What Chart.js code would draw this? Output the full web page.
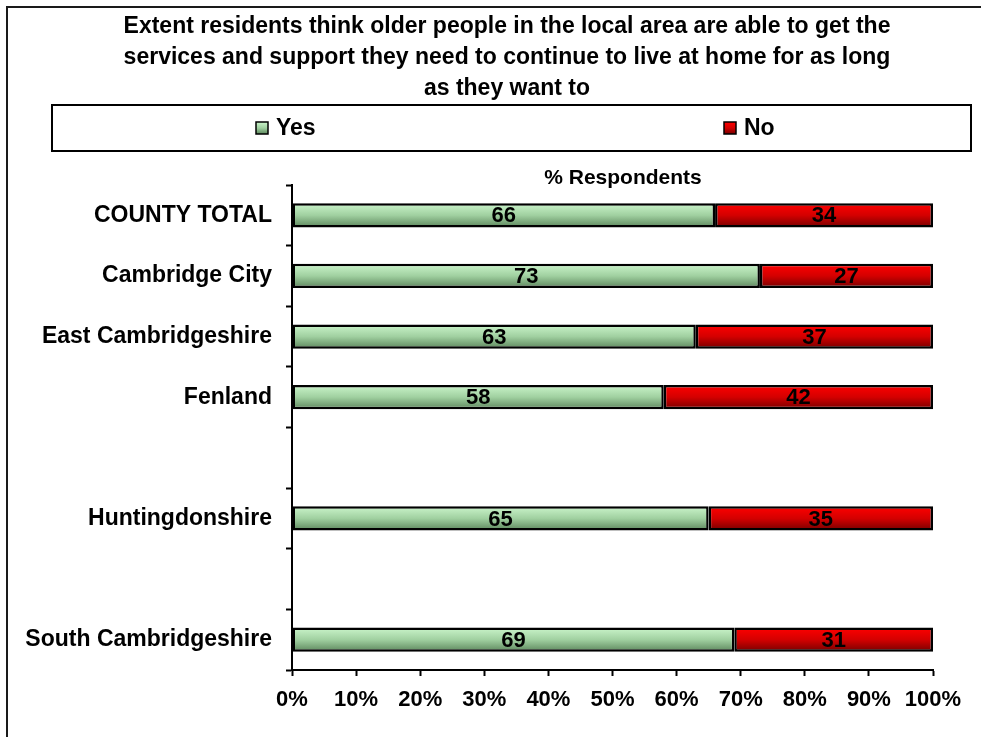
<!DOCTYPE html>
<html>
<head>
<meta charset="utf-8">
<script src="https://cdn.jsdelivr.net/npm/chart.js@4/dist/chart.umd.min.js"></script>
<style>
  html, body { margin: 0; padding: 0; background: #ffffff; }
  #wrap { position: relative; width: 981px; height: 737px; }
</style>
</head>
<body>
<div id="wrap"><canvas id="chart" width="981" height="737"></canvas></div>
<script>
// Survey areas (blank entries keep the spacing between groups)
const areas = ['COUNTY TOTAL', 'Cambridge City', 'East Cambridgeshire', 'Fenland', '', 'Huntingdonshire', '', 'South Cambridgeshire'];
const yesValues = [66, 73, 63, 58, null, 65, null, 69];
const noValues  = [34, 27, 37, 42, null, 35, null, 31];
const seriesNames = ['Yes', 'No'];
const titleLines = [
  'Extent residents think older people in the local area are able to get the',
  'services and support they need to continue to live at home for as long',
  'as they want to'
];
const axisTitle = '% Respondents';

const FONT = '"Liberation Sans", Arial, sans-serif';

// Vertical gradient helpers for the bar fills
const greenStops = ['#cbf5cb', '#a0d0a0', '#5c865c'];
const redStops = ['#ff0000', '#d40000', '#760000'];

function barGradient(ctx, top, bottom, stops) {
  const g = ctx.createLinearGradient(0, top, 0, bottom);
  g.addColorStop(0, stops[0]);
  g.addColorStop(0.5, stops[1]);
  g.addColorStop(1, stops[2]);
  return g;
}

function scriptedFill(stops) {
  return function (context) {
    const chart = context.chart;
    const y = chart.scales && chart.scales.y;
    if (!y || typeof context.dataIndex !== 'number') return stops[1];
    const center = y.getPixelForValue(context.dataIndex);
    const slot = (y.bottom - y.top) / areas.length;
    const half = slot * 0.4 / 2;
    if (!isFinite(center) || !isFinite(half) || half <= 0) return stops[1];
    return barGradient(chart.ctx, center - half, center + half, stops);
  };
}

// Frame, title, legend box and axis caption
const decorations = {
  id: 'decorations',
  beforeDraw(chart) {
    const ctx = chart.ctx;
    ctx.save();
    ctx.fillStyle = '#ffffff';
    ctx.fillRect(0, 0, chart.width, chart.height);
    // outer frame
    ctx.strokeStyle = '#1a1a1a';
    ctx.lineWidth = 2;
    ctx.beginPath();
    ctx.moveTo(7, chart.height + 2);
    ctx.lineTo(7, 7);
    ctx.lineTo(chart.width + 2, 7);
    ctx.stroke();
    // title
    ctx.fillStyle = '#000000';
    ctx.font = 'bold 23px ' + FONT;
    ctx.textAlign = 'center';
    ctx.textBaseline = 'alphabetic';
    titleLines.forEach((line, i) => ctx.fillText(line, 507, 33 + i * 31));
    // legend box
    ctx.strokeStyle = '#000000';
    ctx.lineWidth = 2;
    ctx.strokeRect(52, 105, 919, 46);
    const items = [
      { x: 256, stops: greenStops },
      { x: 724, stops: redStops }
    ];
    ctx.font = 'bold 23px ' + FONT;
    ctx.textAlign = 'left';
    ctx.textBaseline = 'middle';
    items.forEach((it, i) => {
      ctx.fillStyle = barGradient(ctx, 122, 134, it.stops);
      ctx.fillRect(it.x, 122, 12, 12);
      ctx.lineWidth = 1.5;
      ctx.strokeStyle = '#000000';
      ctx.strokeRect(it.x, 122, 12, 12);
      ctx.fillStyle = '#000000';
      ctx.fillText(chart.data.datasets[i].label, it.x + 20, 129);
    });
    // caption above the plot
    ctx.font = 'bold 21px ' + FONT;
    ctx.textAlign = 'center';
    ctx.fillText(axisTitle, 623, 178);
    ctx.restore();
  }
};

// Value labels centred inside each bar segment
const valueLabels = {
  id: 'valueLabels',
  afterDatasetsDraw(chart) {
    const ctx = chart.ctx;
    ctx.save();
    ctx.font = 'bold 22px ' + FONT;
    ctx.fillStyle = '#000000';
    ctx.textAlign = 'center';
    ctx.textBaseline = 'middle';
    chart.data.datasets.forEach((ds, di) => {
      const meta = chart.getDatasetMeta(di);
      meta.data.forEach((bar, i) => {
        const v = ds.data[i];
        if (v === null || v === undefined) return;
        const p = bar.getProps(['x', 'base', 'y'], true);
        ctx.fillText(String(v), (p.x + p.base) / 2, p.y + 1);
      });
    });
    ctx.restore();
  }
};

new Chart(document.getElementById('chart'), {
  type: 'bar',
  data: {
    labels: areas,
    datasets: [
      {
        label: seriesNames[0],
        data: yesValues,
        backgroundColor: scriptedFill(greenStops),
        borderColor: '#000000',
        borderWidth: 2.5,
        borderSkipped: false
      },
      {
        label: seriesNames[1],
        data: noValues,
        backgroundColor: scriptedFill(redStops),
        borderColor: '#000000',
        borderWidth: 2.5,
        borderSkipped: false
      }
    ]
  },
  options: {
    indexAxis: 'y',
    responsive: false,
    animation: false,
    layout: { padding: { top: 185, left: 0, right: 48, bottom: 0 } },
    datasets: { bar: { categoryPercentage: 0.8, barPercentage: 0.5 } },
    plugins: {
      legend: { display: false },
      title: { display: false },
      tooltip: { enabled: false }
    },
    scales: {
      x: {
        stacked: true,
        min: 0,
        max: 100,
        afterFit(scale) { scale.height = 67; },
        grid: {
          drawOnChartArea: false,
          drawTicks: true,
          tickLength: 6,
          tickWidth: 2,
          color: '#000000'
        },
        border: { display: true, color: '#000000', width: 2 },
        ticks: {
          stepSize: 10,
          padding: 11,
          color: '#000000',
          font: { family: FONT, size: 22, weight: 'bold' },
          callback: (v) => v + '%',
          maxRotation: 0
        }
      },
      y: {
        stacked: true,
        afterFit(scale) { scale.width = 292; },
        grid: {
          drawOnChartArea: false,
          drawTicks: true,
          tickLength: 6,
          tickWidth: 2,
          color: '#000000',
          offset: true
        },
        border: { display: true, color: '#000000', width: 2 },
        ticks: {
          padding: 14,
          color: '#000000',
          font: { family: FONT, size: 23, weight: 'bold' },
          autoSkip: false
        }
      }
    }
  },
  plugins: [decorations, valueLabels]
});
</script>
</body>
</html>
